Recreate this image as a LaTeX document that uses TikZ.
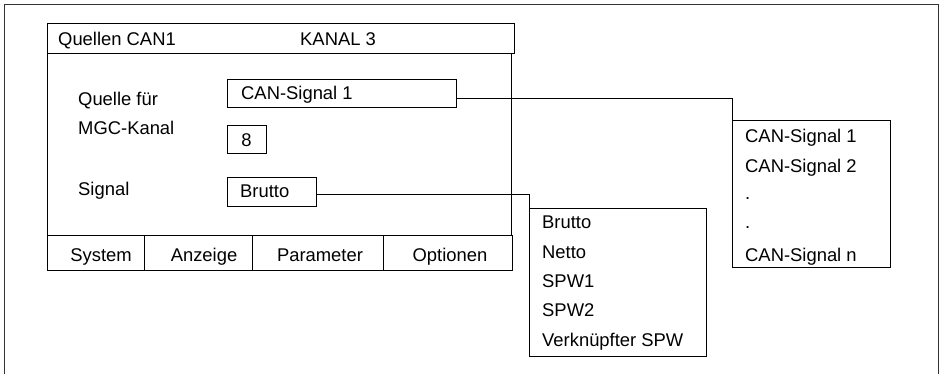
\documentclass[tikz,border=0pt]{standalone}
\usepackage{fontspec}
\setmainfont{Liberation Sans}
\begin{document}
\begin{tikzpicture}[x=1pt,y=-1pt,
  box/.style={draw=black, line width=0.9pt, rectangle, inner sep=0pt, anchor=north west},
  lbl/.style={anchor=base west, inner sep=0pt, font=\fontsize{18.4}{21}\selectfont},
  ctr/.style={anchor=base, inner sep=0pt, font=\fontsize{18.4}{21}\selectfont},
  wire/.style={draw=black, line width=0.9pt}]
\useasboundingbox (0,0) rectangle (941,373);

% outer frame (open at the bottom)
\draw[line width=1.5pt, draw=black!80] (4.5,380) -- (4.5,4.5) -- (938.5,4.5) -- (938.5,380);

% dialog window
\node[box, minimum width=467pt, minimum height=30pt] (title) at (47,23) {};
\node[box, minimum width=464pt, minimum height=182pt] (body) at (47,53) {};
\node[box, minimum width=97pt,  minimum height=35pt] (m1) at (47,235) {};
\node[box, minimum width=108pt, minimum height=35pt] (m2) at (144,235) {};
\node[box, minimum width=131pt, minimum height=35pt] (m3) at (252,235) {};
\node[box, minimum width=129pt, minimum height=35pt] (m4) at (383,235) {};

\node[lbl] (t1) at (58,45) {Quellen CAN1};
\node[lbl] (t2) at (300,45) {KANAL 3};

\node[lbl] (l1) at (78,105) {Quelle für};
\node[lbl] (l2) at (78,134) {MGC-Kanal};
\node[lbl] (l3) at (78,195) {Signal};

% input fields
\node[box, minimum width=229pt, minimum height=28pt] (sig) at (227,79) {};
\node[lbl] (sigtxt) at (241,99) {CAN-Signal 1};
\node[box, minimum width=39pt, minimum height=28pt] (kan) at (227,125) {};
\node[ctr] (kantxt) at (246.5,146) {8};
\node[box, minimum width=89pt, minimum height=29pt] (brut) at (227,177) {};
\node[lbl] (bruttxt) at (240,197) {Brutto};

% menu labels
\node[ctr] (s1) at (101,261) {System};
\node[ctr] (s2) at (204,261) {Anzeige};
\node[ctr] (s3) at (320,261) {Parameter};
\node[ctr] (s4) at (450,261) {Optionen};

% list of CAN signals
\node[box, minimum width=158pt, minimum height=147pt] (canlist) at (732,120) {};
\node[lbl] (c1) at (745,142) {CAN-Signal 1};
\node[lbl] (c2) at (745,172) {CAN-Signal 2};
\node[lbl] (c3) at (745,199) {.};
\node[lbl] (c4) at (745,228) {.};
\node[lbl] (c5) at (745,261) {CAN-Signal n};

% list of signal types
\node[box, minimum width=177pt, minimum height=148pt] (blist) at (529,208) {};
\node[lbl] (b1) at (542,228.5) {Brutto};
\node[lbl] (b2) at (542,258) {Netto};
\node[lbl] (b3) at (542,287) {SPW1};
\node[lbl] (b4) at (542,316) {SPW2};
\node[lbl] (b5) at (542,346) {Verknüpfter SPW};

% connectors
\draw[wire] ([yshift=-5pt]sig.east) -| (canlist.north west);
\draw[wire] ([yshift=-2.5pt]brut.east) -| (blist.north west);
\end{tikzpicture}
\end{document}
